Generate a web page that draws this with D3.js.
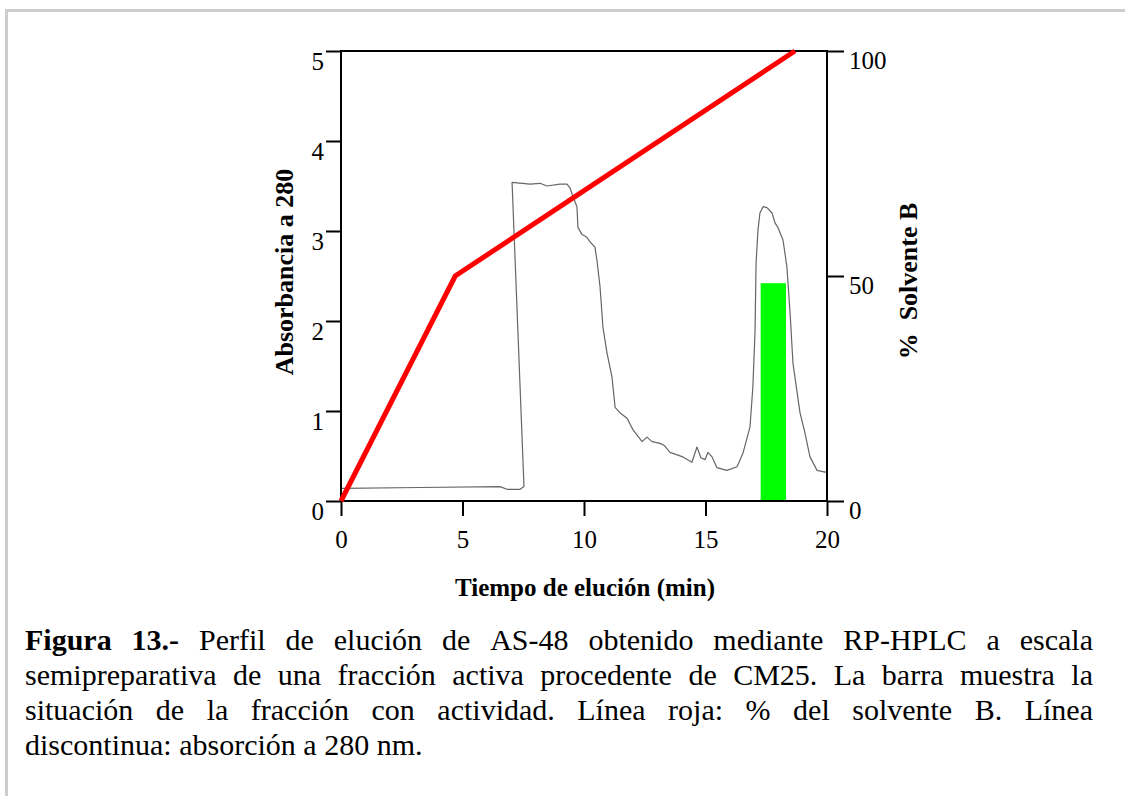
<!DOCTYPE html>
<html>
<head>
<meta charset="utf-8">
<script src="https://cdn.jsdelivr.net/npm/d3@7"></script>
<style>
  body { margin: 0; background: #fff; width: 1125px; height: 796px; overflow: hidden; position: relative; }
  .frame { position: absolute; left: 5px; top: 9px; right: -10px; bottom: -10px; border-top: 3px solid #cdcdcd; border-left: 3px solid #cdcdcd; }
  svg { position: absolute; left: 0; top: 0; }
</style>
</head>
<body>
<div class="frame"></div>
<script>
const serif = '"Liberation Serif", "Times New Roman", Times, serif';

// elution time (min) and absorbance 280 nm
const traceTime = [0.04, 3.25, 6.54, 6.83, 7.37, 7.53, 7.04, 7.78, 8.19, 8.48, 9.01, 9.30, 9.42, 9.55, 9.71, 9.75, 9.92, 10.12, 10.25, 10.45, 10.53, 10.66, 10.78, 10.95, 11.15, 11.28, 11.48, 11.77, 12.02, 12.39, 12.59, 12.80, 13.13, 13.29, 13.54, 14.07, 14.44, 14.65, 14.81, 14.98, 15.10, 15.27, 15.47, 15.88, 16.30, 16.54, 16.83, 16.95, 17.04, 17.08, 17.16, 17.24, 17.37, 17.53, 17.74, 17.86, 17.98, 18.19, 18.35, 18.48, 18.60, 18.89, 19.09, 19.30, 19.59, 19.92, 20.0];
const traceAbs = [0.14, 0.15, 0.16, 0.13, 0.13, 0.16, 3.54, 3.52, 3.53, 3.50, 3.52, 3.52, 3.48, 3.38, 3.27, 3.04, 2.96, 2.93, 2.88, 2.82, 2.68, 2.38, 1.93, 1.64, 1.38, 1.04, 0.98, 0.92, 0.79, 0.66, 0.71, 0.66, 0.64, 0.62, 0.54, 0.49, 0.43, 0.60, 0.48, 0.46, 0.54, 0.49, 0.37, 0.34, 0.38, 0.53, 0.82, 1.27, 1.90, 2.64, 3.01, 3.20, 3.27, 3.26, 3.20, 3.09, 3.04, 2.90, 2.60, 2.09, 1.53, 0.98, 0.76, 0.49, 0.34, 0.32, 0.33];

// gradient, % solvent B
const gradTime = [0, 4.7, 18.68];
const gradB = [0, 50, 100];

// active fraction bar
const barTime = [17.27, 18.31];
const barAbs = 2.42;

const xTicks = [0, 5, 10, 15, 20];
const yLeftTicks = [0, 1, 2, 3, 4, 5];
const yRightTicks = [0, 50, 100];

// caption lines; words before "|" are bold
const captionLines = [
  "Figura 13.-| Perfil de elución de AS-48 obtenido mediante RP-HPLC a escala",
  "semipreparativa de una fracción activa procedente de CM25. La barra muestra la",
  "situación de la fracción con actividad. Línea roja: % del solvente B. Línea",
  "discontinua: absorción a 280 nm."
];

const svg = d3.select("body").append("svg").attr("width", 1125).attr("height", 796);

const x = d3.scaleLinear().domain([0, 20]).range([341, 827]);
const yL = d3.scaleLinear().domain([0, 5]).range([501, 51]);
const yR = d3.scaleLinear().domain([0, 100]).range([501, 51]);

// absorbance trace
const line = d3.line().x((d, i) => x(traceTime[i])).y((d) => yL(d));
svg.append("path")
  .datum(traceAbs)
  .attr("d", line)
  .attr("fill", "none")
  .attr("stroke", "#666")
  .attr("stroke-width", 1.2)
  .attr("stroke-linejoin", "round");

// green bar
svg.append("rect")
  .attr("x", x(barTime[0]))
  .attr("y", yL(barAbs))
  .attr("width", x(barTime[1]) - x(barTime[0]))
  .attr("height", yL(0) - yL(barAbs))
  .attr("fill", "#00ff00");

// frame
svg.append("rect")
  .attr("x", x(0)).attr("y", yL(5))
  .attr("width", x(20) - x(0)).attr("height", yL(0) - yL(5))
  .attr("fill", "none").attr("stroke", "#000").attr("stroke-width", 2);

const styleAxis = (g) => {
  g.select(".domain").remove();
  g.selectAll("line").attr("stroke", "#000").attr("stroke-width", 2);
  g.selectAll("text").attr("fill", "#000").style("font-size", "25px").style("font-family", serif);
};

svg.append("g")
  .attr("transform", `translate(${x(0)},0)`)
  .call(d3.axisLeft(yL).tickValues(yLeftTicks).tickSize(15).tickPadding(2).tickFormat(d3.format("d")))
  .call(styleAxis)
  .call((g) => g.selectAll("text").attr("dy", null).attr("y", 18));

svg.append("g")
  .attr("transform", `translate(${x(20)},0)`)
  .call(d3.axisRight(yR).tickValues(yRightTicks).tickSize(17).tickPadding(5).tickFormat(d3.format("d")))
  .call(styleAxis)
  .call((g) => g.selectAll("text").attr("dy", null).attr("y", 17));

svg.append("g")
  .attr("transform", `translate(0,${yL(0)})`)
  .call(d3.axisBottom(x).tickValues(xTicks).tickSize(15).tickFormat(d3.format("d")))
  .call(styleAxis)
  .call((g) => g.selectAll("text").attr("dy", null).attr("y", 47));

// gradient line
const gradLine = d3.line().x((d, i) => x(gradTime[i])).y((d) => yR(d));
svg.append("path")
  .datum(gradB)
  .attr("d", gradLine)
  .attr("fill", "none")
  .attr("stroke", "#ff0000")
  .attr("stroke-width", 5);

// axis titles
svg.append("text")
  .attr("transform", "translate(293,272) rotate(-90)")
  .attr("text-anchor", "middle")
  .style("font-family", serif).style("font-size", "26px").style("font-weight", "bold")
  .text("Absorbancia a 280");

svg.append("text")
  .attr("transform", "translate(917,281) rotate(-90)")
  .attr("text-anchor", "middle")
  .style("font-family", serif).style("font-size", "26px").style("font-weight", "bold")
  .style("white-space", "pre")
  .text("%  Solvente B");

svg.append("text")
  .attr("x", 585).attr("y", 596)
  .attr("text-anchor", "middle")
  .style("font-family", serif).style("font-size", "25px").style("font-weight", "bold")
  .text("Tiempo de elución (min)");

// caption, justified word by word
const capLeft = 25, capRight = 1093, capTop = 650, capStep = 35;
const cap = svg.append("g").style("font-family", serif).style("font-size", "30px");
captionLines.forEach((l, i) => {
  const parts = l.split("|");
  let words = [];
  if (parts.length > 1) {
    parts[0].split(" ").forEach((w) => words.push({ w, bold: true }));
    parts[1].trim().split(" ").forEach((w) => words.push({ w, bold: false }));
  } else {
    l.split(" ").forEach((w) => words.push({ w, bold: false }));
  }
  const y = capTop + i * capStep;
  const texts = cap.selectAll(null).data(words).enter().append("text")
    .attr("y", y)
    .style("font-family", serif)
    .style("font-weight", (d) => (d.bold ? "bold" : "normal"))
    .text((d) => d.w);
  const widths = [];
  texts.each(function () { widths.push(this.getComputedTextLength()); });
  const total = d3.sum(widths);
  const last = i === captionLines.length - 1;
  const gap = last ? 7.5 : (capRight - capLeft - total) / (words.length - 1);
  let cx = capLeft;
  texts.attr("x", (d, j) => {
    const v = cx;
    cx += widths[j] + gap;
    return v;
  });
});
</script>
</body>
</html>
